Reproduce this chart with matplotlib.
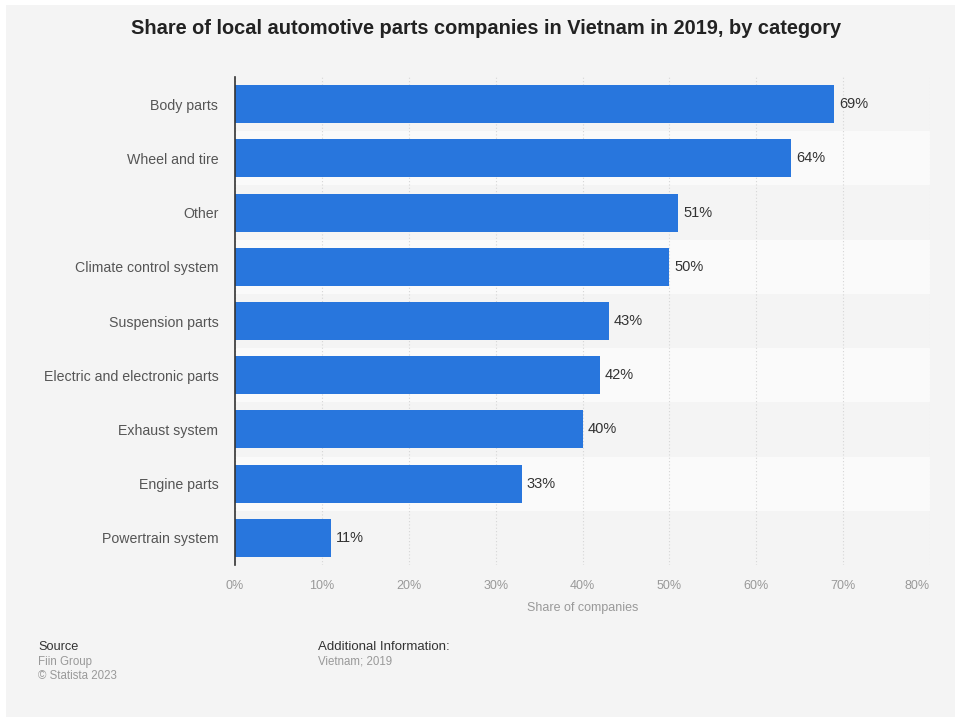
import matplotlib
matplotlib.use("Agg")
import matplotlib.pyplot as plt
from matplotlib.patches import Rectangle

plt.rcParams['font.family'] = ['Liberation Sans', 'DejaVu Sans']

categories = ["Body parts", "Wheel and tire", "Other", "Climate control system",
              "Suspension parts", "Electric and electronic parts", "Exhaust system",
              "Engine parts", "Powertrain system"]
values = [69, 64, 51, 50, 43, 42, 40, 33, 11]
xticks = [0, 10, 20, 30, 40, 50, 60, 70, 80]
xticklabels = ["0%", "10%", "20%", "30%", "40%", "50%", "60%", "70%", "80%"]

W, H = 955, 717
fig = plt.figure(figsize=(W/100, H/100), dpi=100, facecolor='white')
fig.patches.append(Rectangle((6/W, 0), 1, 1 - 5/H, transform=fig.transFigure,
                             facecolor='#f4f4f4', edgecolor='none', zorder=-10))

left, right, top, bottom = 235/W, 930/W, 1 - 77/H, 1 - 565/H
ax = fig.add_axes([left, bottom, right - left, top - bottom])
ax.set_facecolor('none')

n = len(categories)
ypos = list(range(n))
for i in ypos:
    ax.axhspan(i - 0.5, i + 0.5, color='#f4f4f4' if i % 2 == 0 else '#fafafa', zorder=0, lw=0)

ax.barh(ypos, values, height=0.7, color='#2876dd', zorder=3)
for y, v in zip(ypos, values):
    ax.text(v + 0.6, y, f"{v}%", va='center', ha='left', fontsize=10.5, color='#333333', zorder=4)

ax.set_xlim(0, 80)
ax.set_ylim(n - 0.5, -0.5)
ax.set_yticks(ypos)
ax.set_yticklabels(categories, fontsize=10.2, color='#555555')
ax.set_xticks(xticks)
ax.set_xticklabels(xticklabels, fontsize=9, color='#999999')
ax.tick_params(axis='both', length=0)
ax.tick_params(axis='y', pad=12)
ax.tick_params(axis='x', pad=11)
labs = ax.get_xticklabels()
labs[-1].set_horizontalalignment('right')

ax.grid(axis='x', color='#d6d6d6', linestyle=(0, (1, 2)), linewidth=0.8, zorder=1)
ax.set_axisbelow(True)
for s in ['top', 'right', 'bottom']:
    ax.spines[s].set_visible(False)
ax.spines['left'].set_color('#333333')
ax.spines['left'].set_linewidth(1.2)
ax.spines['left'].set_zorder(5)

ax.set_xlabel("Share of companies", fontsize=9, color='#999999', labelpad=7)

fig.text(486/W, 1 - 28.5/H, "Share of local automotive parts companies in Vietnam in 2019, by category",
         ha='center', va='center', fontsize=14.4, fontweight='bold', color='#222222')

fig.text(38/W, 1 - 647/H, "Source", ha='left', va='center', fontsize=9.2, color='#333333')
fig.text(38/W, 1 - 662/H, "Fiin Group", ha='left', va='center', fontsize=8.3, color='#999999')
fig.text(38/W, 1 - 676/H, "© Statista 2023", ha='left', va='center', fontsize=8.3, color='#999999')
fig.text(318/W, 1 - 647/H, "Additional Information:", ha='left', va='center', fontsize=9.5, color='#333333')
fig.text(318/W, 1 - 662/H, "Vietnam; 2019", ha='left', va='center', fontsize=8.3, color='#999999')

fig.savefig("out.png", dpi=100, facecolor=fig.get_facecolor())
